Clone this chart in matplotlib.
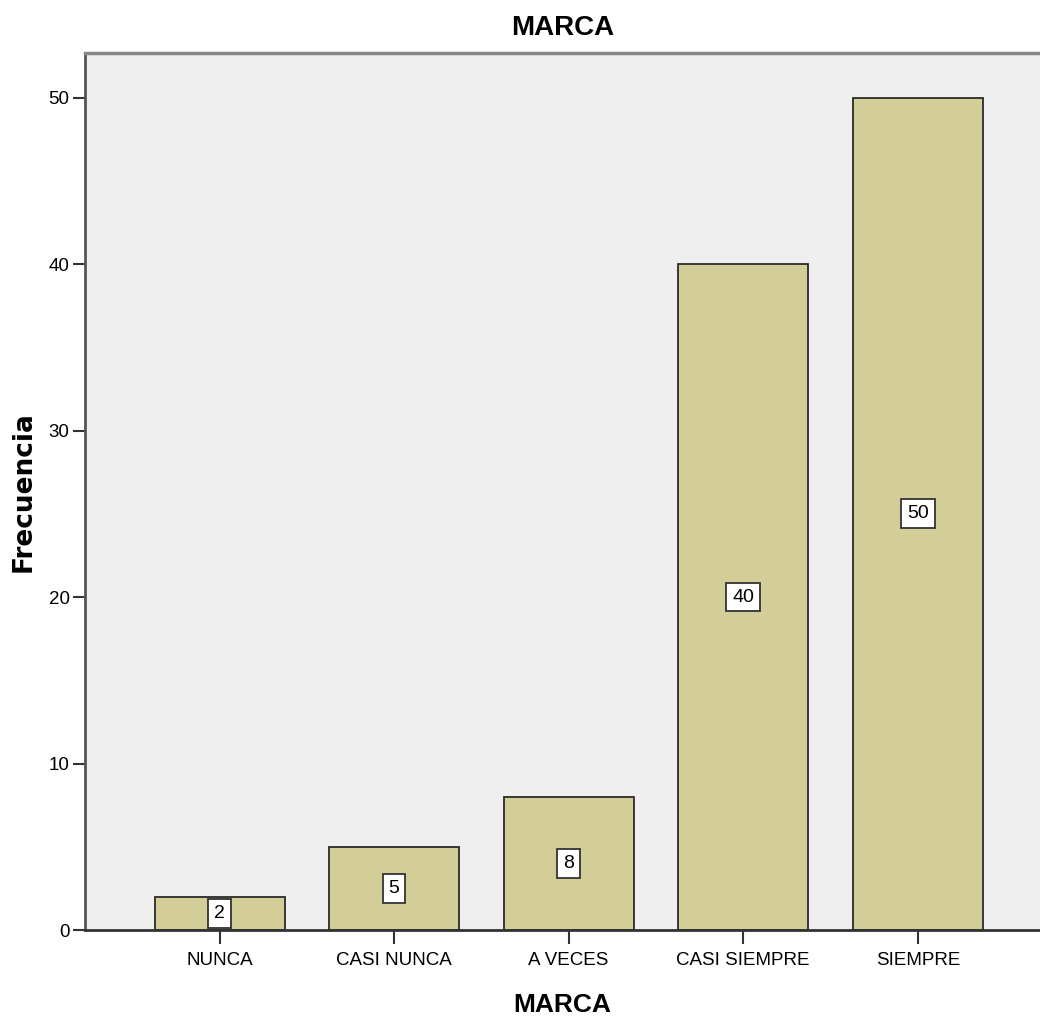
import matplotlib
matplotlib.use('Agg')
import matplotlib.pyplot as plt

# Data
categories = ['NUNCA', 'CASI NUNCA', 'A VECES', 'CASI SIEMPRE', 'SIEMPRE']
counts = [2, 5, 8, 40, 50]
yticks = [0, 10, 20, 30, 40, 50]

font = 'Liberation Sans'

fig = plt.figure(figsize=(10.4, 10.21), dpi=100)
ax = fig.add_axes([0.0817, 0.0891, 0.9183, 0.8593])
ax.set_facecolor('#efefef')

x = range(len(categories))
ax.bar(x, counts, width=0.745, color='#d3ce97', edgecolor='#2a2a2a', linewidth=1.3, zorder=2)

# Value labels in the middle of each bar
for i, c in zip(x, counts):
    ax.text(i, c / 2, str(c), ha='center', va='center', fontsize=14, family=font,
            bbox=dict(boxstyle='square,pad=0.3', facecolor='white', edgecolor='#333333', linewidth=1.3),
            zorder=3, clip_on=False)

ax.set_xlim(-0.771, 4.70)
ax.set_ylim(0, 52.7)
ax.set_xticks(list(x))
ax.set_xticklabels(categories, family=font, fontsize=13.5)
ax.set_yticks(yticks)
ax.set_yticklabels([str(t) for t in yticks], family=font, fontsize=13.5)
ax.tick_params(axis='x', direction='out', length=10, width=1.5, color='#333333', pad=6)
ax.tick_params(axis='y', direction='out', length=9, width=1.5, color='#333333', pad=2)

ax.spines['right'].set_visible(False)
ax.spines['top'].set_color('#888888')
ax.spines['top'].set_linewidth(2.5)
ax.spines['left'].set_color('#555555')
ax.spines['left'].set_linewidth(2)
ax.spines['bottom'].set_color('#333333')
ax.spines['bottom'].set_linewidth(2)

ax.set_title('MARCA', fontsize=20, fontweight='bold', family=font, pad=13)
ax.set_xlabel('MARCA', fontsize=19, fontweight='bold', family=font, labelpad=17)
fig.text(0.023, 0.519, 'Frecuencia', rotation=90, ha='center', va='center',
         fontsize=19, fontweight='bold', family='DejaVu Sans')

fig.savefig('out.png', dpi=100)
